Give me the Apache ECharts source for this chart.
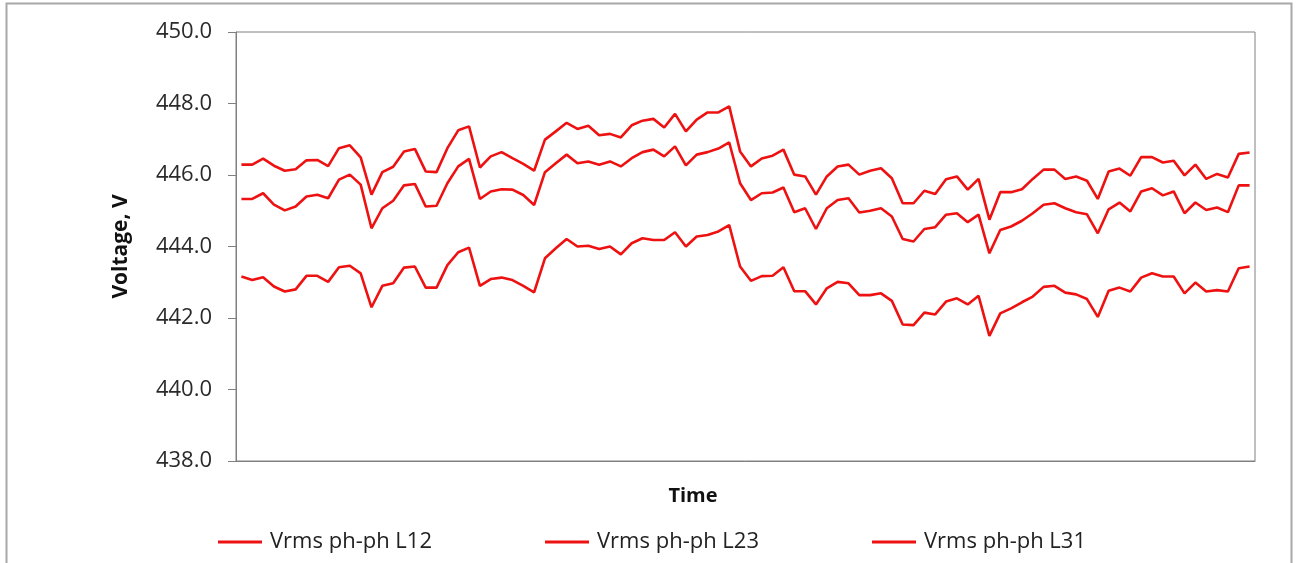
<!DOCTYPE html>
<html>
<head>
<meta charset="utf-8">
<script src="https://cdn.jsdelivr.net/npm/echarts@6/dist/echarts.min.js"></script>
<style>
html,body{margin:0;padding:0;background:#fff;}
#chart{width:1298px;height:563px;}
</style>
</head>
<body>
<div id="chart"></div>
<script>
const seriesNames = ['Vrms ph-ph L12', 'Vrms ph-ph L23', 'Vrms ph-ph L31'];
const yTicks = [438, 440, 442, 444, 446, 448, 450];

const vL12 = [446.29,446.29,446.46,446.26,446.12,446.16,446.41,446.42,446.25,446.75,
446.83,446.49,445.45,446.08,446.23,446.66,446.73,446.10,446.08,446.75,
447.25,447.36,446.21,446.52,446.64,446.47,446.31,446.12,446.99,447.22,
447.46,447.29,447.38,447.11,447.15,447.05,447.39,447.52,447.57,447.33,
447.71,447.22,447.55,447.75,447.75,447.92,446.66,446.24,446.46,446.54,
446.71,446.01,445.96,445.45,445.96,446.24,446.29,446.01,446.12,446.19,
445.91,445.21,445.21,445.56,445.47,445.88,445.96,445.59,445.89,444.75,
445.52,445.52,445.60,445.89,446.15,446.15,445.89,445.96,445.84,445.33,
446.10,446.18,445.98,446.50,446.50,446.35,446.40,445.99,446.29,445.89,
446.03,445.93,446.59,446.63];

const vL23 = [445.33,445.33,445.49,445.17,445.01,445.12,445.40,445.45,445.35,445.87,
446.01,445.73,444.51,445.07,445.28,445.71,445.75,445.12,445.14,445.77,
446.24,446.45,445.33,445.54,445.60,445.59,445.44,445.16,446.08,446.33,
446.57,446.33,446.38,446.29,446.38,446.24,446.47,446.64,446.71,446.52,
446.80,446.27,446.57,446.64,446.74,446.91,445.77,445.30,445.49,445.51,
445.65,444.96,445.07,444.49,445.07,445.30,445.35,444.95,445.00,445.07,
444.84,444.21,444.14,444.49,444.54,444.89,444.93,444.68,444.89,443.81,
444.46,444.56,444.72,444.93,445.17,445.21,445.07,444.96,444.90,444.37,
445.04,445.23,444.98,445.54,445.63,445.43,445.54,444.93,445.23,445.02,
445.09,444.96,445.71,445.71];

const vL31 = [443.16,443.06,443.14,442.88,442.74,442.80,443.18,443.18,443.01,443.42,
443.46,443.25,442.30,442.90,442.97,443.41,443.44,442.85,442.85,443.48,
443.84,443.97,442.90,443.09,443.13,443.06,442.90,442.72,443.67,443.95,
444.21,444.00,444.02,443.93,444.00,443.78,444.09,444.23,444.18,444.18,
444.40,444.00,444.28,444.32,444.42,444.60,443.44,443.04,443.17,443.18,
443.42,442.75,442.75,442.38,442.83,443.01,442.97,442.64,442.64,442.69,
442.48,441.82,441.80,442.15,442.10,442.46,442.55,442.38,442.62,441.50,
442.13,442.27,442.44,442.60,442.87,442.90,442.71,442.66,442.53,442.03,
442.76,442.85,442.74,443.13,443.25,443.16,443.16,442.69,442.99,442.74,
442.78,442.74,443.39,443.44];

const categories = vL12.map((_, i) => String(i + 1));
const FONT = '"Open Sans", "Liberation Sans", sans-serif';
const RED = '#ee1111';

const chart = echarts.init(document.getElementById('chart'), null, {renderer: 'canvas'});

const legendLefts = [218, 545, 872];
const option = {
  animation: false,
  backgroundColor: '#ffffff',
  textStyle: {fontFamily: FONT},
  grid: {left: 236, right: 43, top: 32, bottom: 102, show: true, borderColor: '#808080', borderWidth: 1, backgroundColor: 'transparent'},
  legend: seriesNames.map((n, k) => ({
    data: [n], left: legendLefts[k], top: 531, padding: 0,
    icon: 'rect', itemWidth: 44, itemHeight: 3, itemGap: 0,
    textStyle: {fontFamily: FONT, fontSize: 22, color: '#222', padding: [0, 0, 0, 3]}
  })),
  graphic: [
    {type: 'rect', silent: true, shape: {x: 6.5, y: 3.5, width: 1285, height: 620},
     style: {fill: 'none', stroke: '#a8a8a8', lineWidth: 2}},
    {type: 'text', silent: true, style: {text: 'Time', x: 693, y: 496, textAlign: 'center', textVerticalAlign: 'middle',
      font: 'bold 20px ' + FONT, fill: '#111'}}
  ],
  xAxis: {
    type: 'category', data: categories, boundaryGap: true,
    axisLine: {show: true, lineStyle: {color: '#808080'}},
    axisTick: {show: false}, axisLabel: {show: false}, splitLine: {show: false}
  },
  yAxis: {
    type: 'value', min: 438, max: 450, interval: 2,
    name: 'Voltage, V', nameLocation: 'middle', nameGap: 104, nameRotate: 90,
    nameTextStyle: {fontFamily: FONT, fontSize: 21, fontWeight: 'bold', color: '#111'},
    axisLine: {show: true, lineStyle: {color: '#808080'}},
    axisTick: {show: true, inside: false, length: 8, lineStyle: {color: '#808080'}},
    axisLabel: {margin: 24, fontFamily: FONT, fontSize: 22, color: '#2a2a2a',
      formatter: v => yTicks.includes(v) ? v.toFixed(1) : ''},
    splitLine: {show: false}
  },
  series: [vL12, vL23, vL31].map((d, k) => ({
    name: seriesNames[k], type: 'line', data: d, symbol: 'none',
    lineStyle: {color: RED, width: 2.6}, itemStyle: {color: RED}
  }))
};
chart.setOption(option);
</script>
</body>
</html>
